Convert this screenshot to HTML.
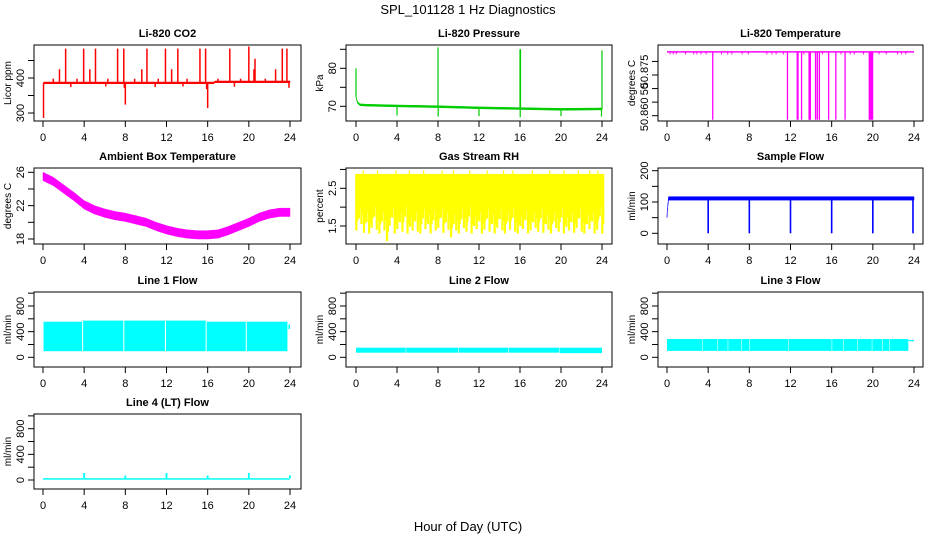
<!DOCTYPE html>
<html><head><meta charset="utf-8"><style>
html,body{margin:0;padding:0;background:#fff;}
svg{display:block;font-family:"Liberation Sans",sans-serif;}
</style></head><body>
<svg id="chart" width="936" height="540" viewBox="0 0 936 540" xmlns="http://www.w3.org/2000/svg">
<text x="468" y="14" text-anchor="middle" font-size="13">SPL_101128  1 Hz Diagnostics</text>
<text x="468" y="531" text-anchor="middle" font-size="13">Hour of Day (UTC)</text>
</svg>
<script>
// ---- data ----
const xTicks = [0,4,8,12,16,20,24];
// CO2
const co2BaseHours = [0.05,16.6,16.7,24];
const co2Base = [386,386,389,389];
const co2SpikeHours = [2.2,3.95,5.1,7.25,7.85,10.1,11.9,13.1,15.25,15.8,18.15,20,20.6,23.25,23.7,1.6,4.55,9.6,12.5,20.5,22.6,1.0,3.3,6.3,8.9,11.2,14.0,17.0,19.2,21.6,0.05,8.0,16.0,7.9,15.9,23.9,2.7,6.1,10.9,13.6,18.6];
const co2SpikeVals = [484,484,484,484,484,484,484,484,484,484,484,490,455,484,484,425,425,425,425,425,425,398,398,398,398,398,398,398,398,398,286,324,314,372,368,372,374,376,374,376,375];
// Pressure
const presHours = [0,0.15,0.4,1,4,8,12,16,20,24];
const presBase = [72.5,71,70.4,70.3,70.1,69.9,69.6,69.4,69.2,69.3];
const presSpikeHours = [0,8,16,16.05,24,4,8.02,12,16.02,20,23.95];
const presSpikeVals = [80,85.5,85,85,84.7,67.6,67.3,67.4,67.1,67.4,67.3];
// Li-820 Temperature
const tempTop = 50.8835;
const tempDropStart = [4.44,11.7,12.65,13.07,13.8,14.43,14.6,14.8,15.7,16.4,17.3,19.65];
const tempDropEnd   = [4.44,11.7,12.85,13.07,14.05,14.43,14.6,14.8,15.7,16.4,17.3,20.1];
const tempDropVal = 50.8585;
const tempDipHours = [0.3,0.6,0.9,1.8,2.6,2.9,3.3,3.8,5.3,5.9,6.3,7.3,7.9,9.7,10.2,10.6,11.3,13.3,15.1,16.9,17.8,18.2,19.1,20.6,21.3,22.4,22.8,23.2];
const tempDipVal = 50.8826;
// Ambient box temperature
const ambHours = [0,1,2,3,4,5,6,7,8,9,10,11,12,13,14,15,16,17,18,19,20,21,22,23,24];
const ambVals = [25.5,24.9,24.0,23.1,22.1,21.5,21.1,20.8,20.6,20.3,20.0,19.5,19.1,18.8,18.6,18.5,18.5,18.6,19.0,19.5,20.0,20.6,21.0,21.2,21.2];
// Gas stream RH
const rhTop = 2.88;
const rhHiHours = [0.7,2.1,3.9,5.2,6.6,8.4,9.5,11.1,12.8,14.4,15.3,17.2,18.9,20.3,21.7,22.8,23.6];
const rhHiVals = [2.97,2.97,2.97,2.97,2.97,2.97,2.97,2.97,2.97,2.97,2.97,2.97,2.97,2.97,2.97,2.97,2.97];
const rhLow = [1.38,1.7,1.55,1.32,1.6,1.3,1.45,1.75,1.4,1.3,1.62,1.38,1.1,1.5,1.72,1.3,1.42,1.6,1.35,1.75,1.3,1.48,1.38,1.62,1.35,1.3,1.7,1.42,1.55,1.3,1.65,1.38,1.45,1.72,1.32,1.6,1.4,1.2,1.55,1.38,1.3,1.68,1.45,1.35,1.75,1.3,1.5,1.42,1.62,1.3,1.4,1.7,1.35,1.55,1.3,1.45,1.68,1.38,1.3,1.62,1.4,1.72,1.35,1.3,1.5,1.42,1.65,1.3,1.38,1.6,1.45,1.35,1.7,1.32,1.55,1.4,1.3,1.62,1.45,1.35,1.72,1.3,1.48,1.38,1.6,1.32,1.45,1.7,1.35,1.3,1.55,1.42,1.62,1.3,1.4,1.75,1.3];
// Sample flow
const sfHours = [0,0.05,0.15,24];
const sfLo = [50,75,106,106];
const sfHi = [60,80,117,117];
const sfDipHours = [4,8,12,16,20,23.9];
const sfDipVals = [0,0,0,0,0,0];
// Line 1 flow
const l1Start = [0.05,3.9,7.9,11.95,15.9,19.8,23.85];
const l1End = [3.8,7.8,11.85,15.8,19.7,23.75,24];
const l1Top = [555,572,572,572,555,555,510];
const l1Bot = [95,95,95,95,95,95,440];
// Line 2 flow
const l2Start = [0,4.9,10.0,14.9,19.9];
const l2End = [4.85,9.95,14.85,19.85,24];
const l2Top = [150,150,150,150,150];
const l2Bot = [72,72,72,72,65];
// Line 3 flow
const l3Start = [0,3.45,4.95,5.95,7.25,8.05,11.85,16.05,17.15,18.55,19.95,20.95,21.65,23.5];
const l3End = [3.4,4.9,5.9,7.2,8.0,11.8,16.0,17.1,18.5,19.9,20.9,21.6,23.45,24];
const l3Top = [285,285,285,285,285,285,285,285,285,285,285,285,285,270];
const l3Bot = [100,100,100,100,100,100,100,100,100,100,100,100,100,250];
// Line 4 flow
const l4Lo = 5, l4Hi = 28;
const l4SpikeHours = [4,8,12,16,20,24];
const l4SpikeVals = [110,70,110,70,110,75];

// ---- layout ----
const NS = "http://www.w3.org/2000/svg";
const svg = document.getElementById('chart');
const cols = [{l:34,r:301,x0:43,x24:290},{l:346,r:612,x0:356,x24:602},{l:658,r:923,x0:667,x24:914}];
const rows = [{t:45,b:121},{t:168,b:244},{t:292,b:367},{t:414,b:489}];
function mk(tag, attrs, parent){const e=document.createElementNS(NS,tag);for(const k in attrs)e.setAttribute(k,attrs[k]);(parent||svg).appendChild(e);return e;}

function panel(o){
  const c=cols[o.col], r=rows[o.row];
  const g=mk('g',{});
  
  
  const X=h=>c.x0+h/24*(c.x24-c.x0);
  const Y=v=>o.ym[1]+(v-o.ym[0])*(o.ym[3]-o.ym[1])/(o.ym[2]-o.ym[0]);
  const plot=mk('g',{},g);
  
  
  o.draw(plot,X,Y,o.color);
  mk('rect',{x:c.l,y:r.t,width:c.r-c.l,height:r.b-r.t,fill:'none',stroke:'#000','stroke-width':1},g);
  const t=mk('text',{x:(c.l+c.r)/2,y:r.t-8,'text-anchor':'middle','font-size':11,'font-weight':'bold'},g);
  t.textContent=o.title;
  
  
  const xa=mk('g',{},g);
  
  
  mk('line',{x1:X(0),x2:X(24),y1:r.b,y2:r.b,stroke:'#000'},xa);
  xTicks.forEach(h=>{
    mk('line',{x1:X(h),x2:X(h),y1:r.b,y2:r.b+6,stroke:'#000'},xa);
    const tx=mk('text',{x:X(h),y:r.b+20,'text-anchor':'middle','font-size':11},xa);tx.textContent=h;
  });
  const ya=mk('g',{},g);
  
  
  o.ticks.forEach(v=>mk('line',{x1:c.l-6,x2:c.l,y1:Y(v),y2:Y(v),stroke:'#000'},ya));
  o.labels.forEach((v,i)=>{
    const yy=Y(o.labelPos?o.labelPos[i]:v);
    const tx=mk('text',{x:c.l-10,y:yy,'text-anchor':'middle','font-size':11,transform:`rotate(-90 ${c.l-10} ${yy})`},ya);
    tx.textContent=o.labelText?o.labelText[i]:v;
  });
  const yl=mk('text',{x:c.l-23,y:(r.t+r.b)/2,'text-anchor':'middle','font-size':10,transform:`rotate(-90 ${c.l-23} ${(r.t+r.b)/2})`},g);
  yl.textContent=o.ylab;
  
  
}
function band(p,X,Y,hours,lo,hi,col){
  let pts=hours.map((h,i)=>X(h)+','+Y(hi[i]));
  for(let i=hours.length-1;i>=0;i--)pts.push(X(hours[i])+','+Y(lo[i]));
  mk('polygon',{points:pts.join(' '),fill:col,stroke:col,'stroke-width':0.5},p);
}
function spikes(p,X,Y,hours,base,vals,col,w){
  hours.forEach((h,i)=>{const b=typeof base==='function'?base(h):base;
    mk('line',{x1:X(h),x2:X(h),y1:Y(b),y2:Y(vals[i]),stroke:col,'stroke-width':w||1.3},p);});
}
function interp(hs,vs,h){for(let i=1;i<hs.length;i++)if(h<=hs[i]){const f=(h-hs[i-1])/(hs[i]-hs[i-1]);return vs[i-1]+f*(vs[i]-vs[i-1]);}return vs[vs.length-1];}

panel({name:'co2',col:0,row:0,title:'Li-820 CO2',ylab:'Licor ppm',color:'#ff0000',
  ym:[300,113,400,78],ticks:[300,350,400,450],labels:[300,400],
  draw:(p,X,Y,col)=>{
    band(p,X,Y,co2BaseHours,co2Base.map(v=>v-2.5),co2Base.map(v=>v+2.5),col);
    spikes(p,X,Y,co2SpikeHours,h=>interp(co2BaseHours,co2Base,h),co2SpikeVals,col,1.5);
  }});
panel({name:'pressure',col:1,row:0,title:'Li-820 Pressure',ylab:'kPa',color:'#00cc00',
  ym:[70,106.3,80,68.3],ticks:[70,75,80,85],labels:[70,80],
  draw:(p,X,Y,col)=>{
    band(p,X,Y,presHours,presBase.map(v=>v-0.25),presBase.map(v=>v+0.25),col);
    spikes(p,X,Y,presSpikeHours,h=>interp(presHours,presBase,h),presSpikeVals,col,1.2);
  }});
panel({name:'li820-temperature',col:2,row:0,title:'Li-820 Temperature',ylab:'degrees C',color:'#ff00ff',
  ym:[50.86,115.7,50.875,75],ticks:[50.86,50.865,50.87,50.875,50.88],labels:[50.86,50.87,50.875],labelPos:[50.8605,50.8698,50.8763],labelText:['50.860','50','50.875'],
  draw:(p,X,Y,col)=>{
    mk('line',{x1:X(0),x2:X(24),y1:Y(tempTop),y2:Y(tempTop),stroke:col,'stroke-width':1.5},p);
    tempDropStart.forEach((s,i)=>{const w=Math.max(1.3,X(tempDropEnd[i])-X(s));
      mk('rect',{x:X(s)-0.6,y:Y(tempTop),width:w,height:Y(tempDropVal)-Y(tempTop),fill:col},p);});
    spikes(p,X,Y,tempDipHours,tempTop,tempDipHours.map(()=>tempDipVal),col,1);
  }});
panel({name:'ambient-temperature',col:0,row:1,title:'Ambient Box Temperature',ylab:'degrees C',color:'#ff00ff',
  ym:[18,239,26,172.3],ticks:[18,20,22,24,26],labels:[18,22,26],
  draw:(p,X,Y,col)=>{band(p,X,Y,ambHours,ambVals.map(v=>v-0.5),ambVals.map(v=>v+0.5),col);}});
panel({name:'gas-stream-rh',col:1,row:1,title:'Gas Stream RH',ylab:'percent',color:'#ffff00',
  ym:[1.5,226,2.5,188.3],ticks:[1.5,2,2.5,3],labels:[1.5,2.5],
  draw:(p,X,Y,col)=>{
    mk('rect',{x:X(0),y:Y(rhTop),width:X(24)-X(0),height:Y(2.3)-Y(rhTop),fill:col},p);
    rhLow.forEach((v,i)=>{const h=i*0.25;
      mk('rect',{x:X(h)-0.8,y:Y(rhTop),width:2.2,height:Y(v)-Y(rhTop),fill:col},p);
      mk('rect',{x:X(h)+0.9,y:Y(rhTop),width:1.4,height:Y(Math.min(2.2,v+0.25))-Y(rhTop),fill:col},p);});
    spikes(p,X,Y,rhHiHours,rhTop,rhHiVals,col,1.2);
  }});
panel({name:'sample-flow',col:2,row:1,title:'Sample Flow',ylab:'ml/min',color:'#0000ff',
  ym:[0,233.3,200,170.7],ticks:[0,50,100,150,200],labels:[0,100,200],
  draw:(p,X,Y,col)=>{
    band(p,X,Y,sfHours,sfLo,sfHi,col);
    spikes(p,X,Y,sfDipHours,110,sfDipVals,col,1.6);
  }});
function segs(p,X,Y,st,en,top,bot,col){st.forEach((s,i)=>mk('rect',{x:X(s),y:Y(top[i]),width:Math.max(1,X(en[i])-X(s)),height:Y(bot[i])-Y(top[i]),fill:col},p));}
const flowTicks=[0,200,400,600,800,1000];
panel({name:'line-1-flow',col:0,row:2,title:'Line 1 Flow',ylab:'ml/min',color:'#00ffff',
  ym:[0,357.3,800,306],ticks:flowTicks,labels:[0,400,800],
  draw:(p,X,Y,col)=>segs(p,X,Y,l1Start,l1End,l1Top,l1Bot,col)});
panel({name:'line-2-flow',col:1,row:2,title:'Line 2 Flow',ylab:'ml/min',color:'#00ffff',
  ym:[0,357.3,800,306],ticks:flowTicks,labels:[0,400,800],
  draw:(p,X,Y,col)=>segs(p,X,Y,l2Start,l2End,l2Top,l2Bot,col)});
panel({name:'line-3-flow',col:2,row:2,title:'Line 3 Flow',ylab:'ml/min',color:'#00ffff',
  ym:[0,357.3,800,306],ticks:flowTicks,labels:[0,400,800],
  draw:(p,X,Y,col)=>segs(p,X,Y,l3Start,l3End,l3Top,l3Bot,col)});
panel({name:'line-4-flow',col:0,row:3,title:'Line 4 (LT) Flow',ylab:'ml/min',color:'#00ffff',
  ym:[0,480,800,428.7],ticks:flowTicks,labels:[0,400,800],
  draw:(p,X,Y,col)=>{
    mk('rect',{x:X(0),y:Y(l4Hi),width:X(24)-X(0),height:Y(l4Lo)-Y(l4Hi),fill:col},p);
    spikes(p,X,Y,l4SpikeHours,l4Hi,l4SpikeVals,col,1.8);
  }});
</script>
</body></html>
